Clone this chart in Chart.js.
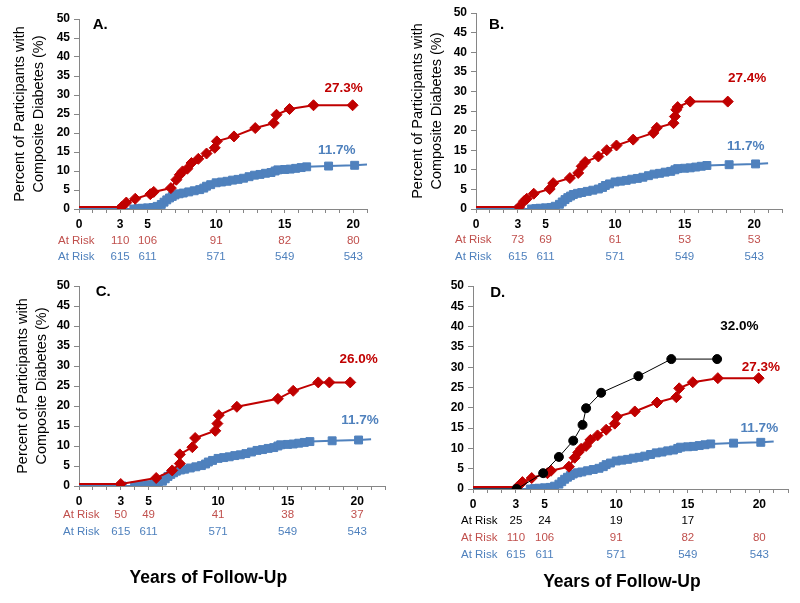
<!DOCTYPE html>
<html>
<head>
<meta charset="utf-8">
<script src="https://cdn.jsdelivr.net/npm/chart.js@4"></script>
<style>
  body { margin: 0; background: #fff; }
  #wrap { position: relative; width: 800px; height: 603px; }
  canvas { position: absolute; left: 0; top: 0; }
</style>
</head>
<body>
<div id="wrap">
  <canvas id="chartA" width="800" height="603"></canvas>
  <canvas id="chartB" width="800" height="603"></canvas>
  <canvas id="chartC" width="800" height="603"></canvas>
  <canvas id="chartD" width="800" height="603"></canvas>
</div>
<script>
// tick labels and at-risk columns
var xTickLabels = [0, 3, 5, 10, 15, 20];
var atRiskYears = [3, 5, 10, 15, 20];

// comparison group (615 at risk) - same curve in every panel
var blueYears = [0, 3.1, 4.0, 4.3, 4.6, 5.0, 5.4, 5.7, 6.0, 6.2, 6.4, 6.6, 6.8, 7.0, 7.3, 7.6, 8.0, 8.4, 8.8, 9.1, 9.3, 9.6, 10.0, 10.4, 10.8, 11.2, 11.6, 12.0, 12.4, 12.8, 13.2, 13.6, 14.0, 14.3, 14.5, 15.0, 15.4, 15.8, 16.2, 16.6, 18.2, 20.1, 21.0];
var bluePct   = [0, 0, 0, 0.1, 0.2, 0.3, 0.4, 0.7, 1.2, 1.8, 2.4, 2.9, 3.3, 3.7, 4.0, 4.2, 4.5, 4.8, 5.1, 5.5, 6.0, 6.4, 6.9, 7.1, 7.3, 7.6, 7.8, 8.1, 8.5, 8.9, 9.1, 9.4, 9.6, 10.0, 10.3, 10.4, 10.5, 10.7, 10.9, 11.1, 11.3, 11.5, 11.7];

// panel A and D red curve (110 at risk)
var redAYears = [0, 3.1, 3.45, 4.1, 5.2, 5.45, 6.7, 7.1, 7.35, 7.55, 7.9, 8.2, 8.7, 9.3, 9.9, 10.05, 11.3, 12.85, 14.2, 14.4, 15.35, 17.1, 19.95];
var redAPct   = [0.5, 0.5, 1.7, 2.7, 3.9, 4.5, 5.5, 7.7, 9.0, 9.9, 10.6, 12.1, 13.2, 14.6, 16.1, 17.8, 19.1, 21.3, 22.6, 24.8, 26.3, 27.3, 27.3];

// panel B red curve (73 at risk)
var redBYears = [0, 3.1, 3.45, 3.65, 4.15, 5.3, 5.55, 6.75, 7.35, 7.6, 7.85, 8.8, 9.4, 10.1, 11.3, 12.75, 13.0, 14.2, 14.3, 14.4, 14.5, 15.4, 18.1];
var redBPct   = [0.5, 0.5, 2.0, 2.6, 3.9, 5.1, 6.6, 7.9, 9.2, 10.9, 12.0, 13.4, 15.0, 16.2, 17.7, 19.4, 20.7, 21.9, 23.6, 25.3, 26.0, 27.4, 27.4];

// panel C red curve (50 at risk)
var redCYears = [0, 3.0, 5.55, 6.7, 7.25, 7.25, 8.15, 8.35, 9.8, 9.95, 10.05, 11.35, 14.3, 15.4, 17.2, 18.0, 19.5];
var redCPct   = [0.5, 0.5, 2.0, 3.9, 5.6, 7.9, 9.7, 12.0, 13.8, 15.6, 17.7, 19.8, 21.8, 23.8, 25.9, 25.9, 25.9];

// panel D black curve (25 at risk)
var blackYears = [0, 3.05, 4.9, 6.0, 7.0, 7.65, 7.9, 8.95, 11.55, 13.85, 17.05];
var blackPct   = [0, 0, 3.9, 7.9, 11.9, 15.8, 19.9, 23.7, 27.8, 32.0, 32.0];

// numbers at risk
var riskBlue  = [615, 611, 571, 549, 543];
var riskRedA  = [110, 106, 91, 82, 80];
var riskRedB  = [73, 69, 61, 53, 53];
var riskRedC  = [50, 49, 41, 38, 37];
var riskBlack = [25, 24, 19, 17];

var RED = '#C00000', BLUE = '#4F81BD', RISK_RED = '#C0504D', AXIS = '#868686';
var FONT = '"Liberation Sans", Arial, sans-serif';
Chart.defaults.font.family = FONT;

function points(xs, ys) {
    return xs.map(function (x, i) { return { x: x, y: ys[i] }; });
}

function series(xs, ys, color, style, radius, width, hideLast) {
    var n = xs.length;
    return {
        data: points(xs, ys),
        borderColor: color,
        backgroundColor: color,
        borderWidth: width,
        pointStyle: style,
        pointBorderColor: color,
        pointBackgroundColor: color,
        pointBorderWidth: 1,
        pointRadius: function (c) {
            if (c.dataIndex === 0 || (hideLast && c.dataIndex === n - 1)) return 0;
            return radius;
        },
        tension: 0
    };
}

function blueSet() { return series(blueYears, bluePct, BLUE, 'rect', 5.6, 2, true); }

function makePanel(id, p) {
    var textPlugin = {
        id: 'panelText',
        afterDraw: function (chart) {
            var ctx = chart.ctx, xs = chart.scales.x, ys = chart.scales.y, a = chart.chartArea;
            ctx.save();
            ctx.textBaseline = 'middle';

            // panel letter
            ctx.font = 'bold 15px ' + FONT;
            ctx.fillStyle = '#000';
            ctx.textAlign = 'left';
            ctx.fillText(p.letter[0], xs.getPixelForValue(p.letter[1]), ys.getPixelForValue(p.letter[2]));

            // end-of-curve percentages
            ctx.font = 'bold 13.5px ' + FONT;
            ctx.textAlign = 'center';
            p.endLabels.forEach(function (l) {
                ctx.fillStyle = l[3];
                ctx.fillText(l[0], xs.getPixelForValue(l[1]), ys.getPixelForValue(l[2]));
            });

            // at-risk rows
            ctx.font = '11.5px ' + FONT;
            p.risks.forEach(function (r) {
                var y = a.bottom + r.dy;
                ctx.fillStyle = r.color;
                ctx.textAlign = 'left';
                ctx.fillText('At Risk', a.left + p.riskDx, y);
                ctx.textAlign = 'center';
                r.values.forEach(function (v, j) {
                    ctx.fillText(String(v), xs.getPixelForValue(atRiskYears[j]), y);
                });
            });

            // x axis title (bottom panels only)
            if (p.bottomTitle) {
                ctx.font = 'bold 17.5px ' + FONT;
                ctx.fillStyle = '#000';
                ctx.textAlign = 'center';
                ctx.fillText('Years of Follow-Up', xs.getPixelForValue(p.bottomTitle[0]), a.bottom + p.bottomTitle[1]);
            }
            ctx.restore();
        }
    };

    var ctx = document.getElementById(id).getContext('2d');
    return new Chart(ctx, {
        type: 'line',
        data: { datasets: p.sets },
        options: {
            responsive: false,
            animation: false,
            devicePixelRatio: 1,
            layout: {
                padding: {
                    left: p.area[0] - p.yWidth,
                    top: p.area[1],
                    right: 800 - p.area[2],
                    bottom: 603 - p.area[3] - 20
                }
            },
            plugins: {
                legend: { display: false },
                tooltip: { enabled: false }
            },
            scales: {
                x: {
                    type: 'linear',
                    min: 0,
                    max: p.xMax,
                    afterFit: function (s) { s.height = 20; },
                    grid: { drawOnChartArea: false, drawTicks: true, tickLength: 4, color: AXIS },
                    border: { color: AXIS, width: 1 },
                    ticks: {
                        stepSize: 1,
                        autoSkip: false,
                        maxRotation: 0,
                        padding: 4,
                        color: '#000',
                        font: { size: 12, weight: 'bold' },
                        callback: function (v) { return xTickLabels.indexOf(v) >= 0 ? String(v) : ''; }
                    }
                },
                y: {
                    min: 0,
                    max: 50,
                    afterFit: function (s) { s.width = p.yWidth; },
                    grid: { drawOnChartArea: false, drawTicks: true, tickLength: 5, color: AXIS },
                    border: { color: AXIS, width: 1 },
                    ticks: {
                        stepSize: 5,
                        padding: 4,
                        color: '#000',
                        font: { size: 12, weight: 'bold' }
                    },
                    title: {
                        display: p.titlePad !== null,
                        text: ['Percent of Participants with', 'Composite Diabetes (%)'],
                        color: '#000',
                        font: { size: 14.5, lineHeight: 1.3 },
                        padding: { top: p.titlePad || 0, bottom: 0 }
                    }
                }
            }
        },
        plugins: [textPlugin]
    });
}

// PANEL A
makePanel('chartA', {
    area: [79, 19, 367, 209], xMax: 21, yWidth: 79, titlePad: 10.6,
    sets: [series(redAYears, redAPct, RED, 'rectRot', 5.5, 2, false), blueSet()],
    letter: ['A.', 1.0, 48.4],
    endLabels: [['27.3%', 19.3, 31.8, RED], ['11.7%', 18.8, 15.5, BLUE]],
    riskDx: -21,
    risks: [{ dy: 32, color: RISK_RED, values: riskRedA }, { dy: 48, color: BLUE, values: riskBlue }]
});

// PANEL B
makePanel('chartB', {
    area: [476, 13, 782, 209], xMax: 22, yWidth: 76, titlePad: 8.6,
    sets: [series(redBYears, redBPct, RED, 'rectRot', 5.5, 2, false), blueSet()],
    letter: ['B.', 0.94, 46.9],
    endLabels: [['27.4%', 19.5, 33.4, RED], ['11.7%', 19.4, 16.1, BLUE]],
    riskDx: -21,
    risks: [{ dy: 31, color: RISK_RED, values: riskRedB }, { dy: 48, color: BLUE, values: riskBlue }]
});

// PANEL C
makePanel('chartC', {
    area: [79, 286, 385, 486], xMax: 22, yWidth: 79, titlePad: 13.6,
    sets: [series(redCYears, redCPct, RED, 'rectRot', 5.5, 2, false), blueSet()],
    letter: ['C.', 1.2, 48.5],
    endLabels: [['26.0%', 20.1, 31.75, RED], ['11.7%', 20.2, 16.5, BLUE]],
    riskDx: -16,
    risks: [{ dy: 29, color: RISK_RED, values: riskRedC }, { dy: 46, color: BLUE, values: riskBlue }],
    bottomTitle: [9.3, 92]
});

// PANEL D
makePanel('chartD', {
    area: [473, 286, 788, 489], xMax: 22, yWidth: 40, titlePad: null,
    sets: [
        series(blackYears, blackPct, '#000', 'circle', 4.5, 1, false),
        series(redAYears, redAPct, RED, 'rectRot', 5.5, 2, false),
        blueSet()
    ],
    letter: ['D.', 1.2, 48.3],
    endLabels: [['32.0%', 18.6, 40.1, '#000'], ['27.3%', 20.1, 30.0, RED], ['11.7%', 20.0, 15.0, BLUE]],
    riskDx: -12,
    risks: [
        { dy: 32, color: '#000', values: riskBlack },
        { dy: 49, color: RISK_RED, values: riskRedA },
        { dy: 66, color: BLUE, values: riskBlue }
    ],
    bottomTitle: [10.4, 93]
});
</script>
</body>
</html>
